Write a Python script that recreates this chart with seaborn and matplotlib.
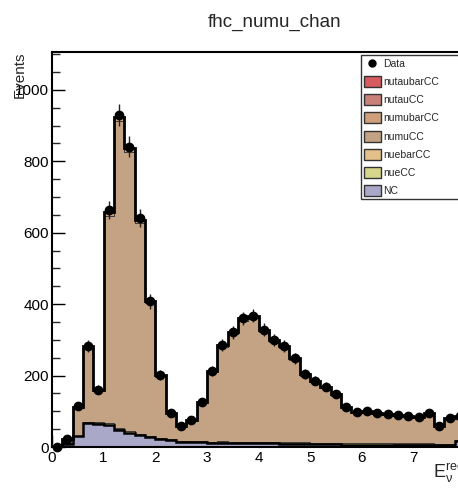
import numpy as np
import pandas as pd
import matplotlib
matplotlib.use("Agg")
import matplotlib.pyplot as plt
from matplotlib.patches import Patch
from matplotlib.lines import Line2D
from matplotlib.ticker import MultipleLocator, FixedLocator
import seaborn as sns

# ---------------- data ----------------
bin_edges = [0.0, 0.2, 0.4, 0.6, 0.8, 1.0, 1.2, 1.4, 1.6, 1.8, 2.0, 2.2, 2.4, 2.6, 2.8, 3.0,
             3.2, 3.4, 3.6, 3.8, 4.0, 4.2, 4.4, 4.6, 4.8, 5.0, 5.2, 5.4, 5.6, 5.8, 6.0,
             6.2, 6.4, 6.6, 6.8, 7.0, 7.2, 7.4, 7.6, 7.8, 8.0]
x_ticks = [0, 1, 2, 3, 4, 5, 6, 7]

data_counts = [0, 23, 114, 282, 161, 664, 930, 841, 642, 408, 201, 95, 60, 76, 127, 213,
               285, 321, 360, 368, 328, 300, 283, 248, 204, 186, 169, 148, 113, 98, 102,
               96, 92, 90, 87, 85, 96, 59, 82, 87]

nc = [0, 9, 30, 66, 65, 62, 47, 40, 33, 27, 22, 20, 15, 14, 13, 12, 12, 11, 11, 10, 10,
      10, 9, 9, 9, 8, 8, 8, 7, 7, 7, 7, 7, 6, 6, 6, 6, 6, 5, 16]
nuecc = [0, 1, 2, 3, 3, 4, 4, 4, 3, 3, 3, 2, 2, 2, 2, 2, 3, 3, 3, 3, 3, 3, 3, 3, 3, 3,
         3, 3, 3, 3, 3, 3, 3, 3, 3, 3, 3, 2, 2, 3]
nuebarcc = [0, 0, 0, 1, 1, 1, 1, 1, 1, 1, 1, 1, 0, 0, 1, 1, 1, 1, 1, 1, 1, 1, 1, 1, 1,
            1, 1, 1, 1, 1, 1, 1, 1, 1, 1, 1, 1, 1, 1, 1]
numucc = [1, 12, 78, 206, 88, 580, 860, 780, 590, 372, 171, 70, 41, 58, 108, 194, 264,
          301, 339, 348, 308, 281, 265, 230, 187, 170, 153, 132, 99, 84, 88, 82, 78, 77,
          74, 72, 83, 48, 72, 64]
numubarcc = [0, 1, 3, 6, 4, 10, 12, 11, 9, 7, 4, 2, 2, 2, 3, 4, 5, 5, 6, 6, 6, 5, 5, 5,
             4, 4, 4, 4, 3, 3, 3, 3, 3, 3, 3, 3, 3, 2, 2, 3]
nutaucc = [0, 0, 0, 0, 0, 0, 0, 0, 0, 0, 0, 0, 0, 0, 0, 0, 0, 0, 0, 0, 0, 0, 0, 0, 0,
           0, 0, 0, 0, 0, 0, 0, 0, 0, 0, 0, 0, 0, 0, 0]
nutaubarcc = [0, 0, 0, 0, 0, 0, 0, 0, 0, 0, 0, 0, 0, 0, 0, 0, 0, 0, 0, 0, 0, 0, 0, 0, 0,
              0, 0, 0, 0, 0, 0, 0, 0, 0, 0, 0, 0, 0, 0, 0]

components = ["nutaubarCC", "nutauCC", "numubarCC", "numuCC", "nuebarCC", "nueCC", "NC"]
component_values = {
    "nutaubarCC": nutaubarcc,
    "nutauCC": nutaucc,
    "numubarCC": numubarcc,
    "numuCC": numucc,
    "nuebarCC": nuebarcc,
    "nueCC": nuecc,
    "NC": nc,
}
colors = {
    "nutaubarCC": "#d65a5e",
    "nutauCC": "#c98078",
    "numubarCC": "#cf9f7b",
    "numuCC": "#c4a284",
    "nuebarCC": "#e3c08a",
    "nueCC": "#d6d68a",
    "NC": "#aaa8c8",
}

# ---------------- figure ----------------
sns.set_style("ticks")
plt.rcParams["font.family"] = ["Liberation Sans", "DejaVu Sans"]
plt.rcParams["mathtext.fontset"] = "custom"
plt.rcParams["mathtext.rm"] = "Liberation Sans"
plt.rcParams["mathtext.it"] = "Liberation Sans"

W, H = 458, 490
fig = plt.figure(figsize=(W / 100, H / 100), dpi=100)
ax = fig.add_axes([52 / W, 43 / H, 413 / W, (447 - 51.7) / H])

edges = np.array(bin_edges)
centers = 0.5 * (edges[:-1] + edges[1:])

rows = []
for comp in components:
    for c, v in zip(centers, component_values[comp]):
        rows.append({"E": float(c), "w": float(v), "comp": comp})
df = pd.DataFrame(rows)

sns.histplot(data=df, x="E", weights="w", hue="comp", hue_order=components,
             bins=list(bin_edges), multiple="stack", element="step", palette=colors,
             alpha=1.0, edgecolor="#333333", linewidth=0.6, legend=False, ax=ax)

total = np.sum([np.array(component_values[c]) for c in components], axis=0)
ax.stairs(total, edges, color="black", lw=2.0, zorder=4)
ax.stairs(np.array(nc) + 0.0, edges, color="black", lw=1.8, zorder=4)

dvals = np.array(data_counts, dtype=float)
ax.errorbar(centers, dvals, yerr=np.sqrt(dvals), fmt="o", color="black",
            ms=6, elinewidth=1.0, ecolor="#222222", capsize=0, zorder=6,
            clip_on=False)

ax.set_xlim(0, 8)
ax.set_ylim(0, 1107)
ax.set_xlabel("")
ax.set_ylabel("")

ax.xaxis.set_major_locator(FixedLocator(x_ticks))
ax.xaxis.set_minor_locator(MultipleLocator(0.2))
ax.yaxis.set_major_locator(MultipleLocator(200))
ax.yaxis.set_minor_locator(MultipleLocator(50))
ax.tick_params(axis="both", which="major", direction="in", length=9, width=1.0,
               labelsize=11, colors="black")
ax.tick_params(axis="x", which="minor", direction="in", length=4.5, width=1.0)
ax.tick_params(axis="y", which="minor", direction="in", length=5.5, width=1.0)
ax.tick_params(axis="x", which="major", pad=3)
ax.tick_params(axis="y", which="major", pad=2)
for s in ax.spines.values():
    s.set_linewidth(1.5)
    s.set_color("black")
    s.set_visible(True)

fig.text(275 / W, 1 - 22 / H, "fhc_numu_chan", ha="center", va="center", fontsize=13.5)
fig.text(20 / W, 1 - 51 / H, "Events", rotation=90, ha="center", va="top", fontsize=11)
fig.text(433 / W, 1 - 478 / H, r"$\mathrm{E}_{\nu}^{\mathrm{rec}}$", ha="left",
         va="baseline", fontsize=13)

handles = [Line2D([0], [0], marker="o", color="black", ls="none", ms=5)]
labels = ["Data"]
for comp in components:
    handles.append(Patch(facecolor=colors[comp], edgecolor="#333333", linewidth=1.0))
    labels.append(comp)
leg = fig.legend(handles, labels, loc="upper left", mode="expand",
                 bbox_to_anchor=(361 / W, 0, 110 / W, 1 - 55 / H), fontsize=7.5,
                 frameon=True, fancybox=False, edgecolor="black",
                 labelspacing=0.68, handlelength=1.6, handleheight=1.25,
                 handletextpad=0.25, borderpad=0.3, borderaxespad=0.0)
leg.get_frame().set_linewidth(1.0)

fig.savefig("out.png", dpi=100)
